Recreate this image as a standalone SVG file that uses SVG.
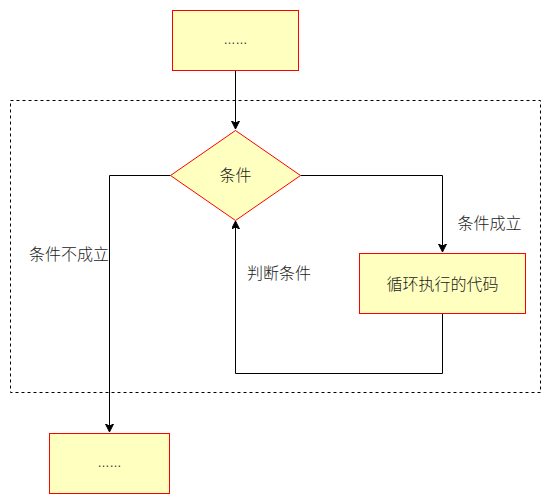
<svg xmlns="http://www.w3.org/2000/svg" width="551" height="504" viewBox="0 0 551 504">
<defs>
<style>
.node{fill:#FFFFC0;stroke:#FF0000;stroke-width:1}
.edge{fill:none;stroke:#000;stroke-width:1}
.t{font-family:"Noto Sans CJK SC","Liberation Sans",sans-serif;font-size:16px;font-weight:300;fill:#1a1a1a}
.dots{font-family:"Liberation Sans",sans-serif;font-size:12px;fill:#333}
</style>
<marker id="arr" markerWidth="10" markerHeight="10" refX="7" refY="4" orient="auto" markerUnits="userSpaceOnUse">
<path d="M0,0 L8,4 L0,8 L2,4 Z" fill="#000" stroke="#000" stroke-width="1"/>
</marker>
</defs>
<rect x="10.5" y="100.5" width="530" height="292" fill="none" stroke="#000" stroke-dasharray="3,3"/>
<g id="connectors">
<path class="edge" d="M235.5,70.5 V128" marker-end="url(#arr)"/>
<path class="edge" d="M170.5,175.5 H109.5 V431" marker-end="url(#arr)"/>
<path class="edge" d="M300.5,175.5 H442.5 V251" marker-end="url(#arr)"/>
<path class="edge" d="M442.5,313.5 V373.5 H235.5 V222" marker-end="url(#arr)"/>
</g>
<g id="start">
<rect class="node" x="172.5" y="10.5" width="126" height="60"/>
<text class="dots" x="235.5" y="44" text-anchor="middle">……</text>
</g>
<g id="cond">
<path class="node" d="M235.5,130.5 L300.5,175.5 L235.5,220.5 L170.5,175.5 Z"/>
<text class="t" x="235.5" y="181" text-anchor="middle">条件</text>
</g>
<g id="body">
<rect class="node" x="359.5" y="253.5" width="166" height="60"/>
<text class="t" x="442.5" y="290" text-anchor="middle">循环执行的代码</text>
</g>
<g id="end">
<rect class="node" x="49.5" y="433.5" width="120" height="60"/>
<text class="dots" x="109.5" y="467" text-anchor="middle">……</text>
</g>
<g id="labels">
<text class="t" x="109" y="259.5" text-anchor="end">条件不成立</text>
<text class="t" x="489.5" y="229" text-anchor="middle">条件成立</text>
<text class="t" x="279" y="279" text-anchor="middle">判断条件</text>
</g>
</svg>
